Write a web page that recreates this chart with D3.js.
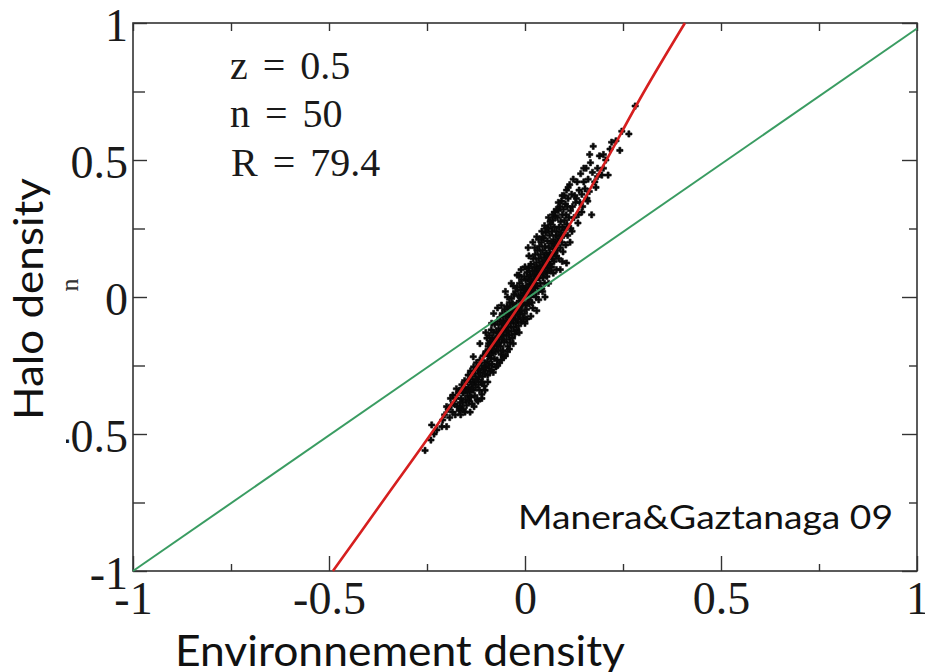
<!DOCTYPE html>
<html><head><meta charset="utf-8">
<script src="https://cdn.jsdelivr.net/npm/d3@7"></script>
<style>body{margin:0;background:#fff}</style></head>
<body><svg id="c" width="925" height="672"></svg>
<script>
// ---------- data ----------
const majorTicks = [-1, -0.5, 0, 0.5, 1];
const minorTicks = [-0.75, -0.25, 0.25, 0.75];
const xTickLabels = ["-1", "-0.5", "0", "0.5", "1"];
const yTickLabels = ["-1", "-0.5", "0", "0.5", "1"];
const annotations = ["z = 0.5", "n = 50", "R = 79.4"];
const credit = "Manera&Gaztanaga 09";
const xTitle = "Environnement density";
const yTitle = "Halo density";

const identityLine = [[-1, -1], [1, 0.98]];
const fitLine = [[-0.49,-1.0],[-0.35,-0.72],[-0.24,-0.5],[-0.12,-0.25],[0,0],[0.1,0.23],[0.2,0.48],[0.3,0.74],[0.408,1.0]];

const tailPoints = [[-0.255,-0.56],[-0.24,-0.522],[-0.238,-0.467],[-0.232,-0.50],[-0.225,-0.485],[-0.212,-0.473],[-0.21,-0.449],[-0.205,-0.43],[-0.2,-0.473],[-0.196,-0.41],[-0.192,-0.44],[-0.188,-0.395],[-0.185,-0.42],[-0.184,-0.358],[-0.18,-0.39],[-0.178,-0.43],[-0.176,-0.37],[-0.173,-0.40],[-0.17,-0.35],[-0.168,-0.415],[-0.166,-0.405],[-0.19,-0.37],[-0.2,-0.40],[-0.175,-0.335]];

const coreLow = [[-0.167,-0.34],[-0.166,-0.40],[-0.164,-0.43],[-0.163,-0.37],[-0.161,-0.32],
[-0.159,-0.385],[-0.158,-0.35],[-0.157,-0.41],[-0.155,-0.33],[-0.154,-0.305],
[-0.152,-0.375],[-0.151,-0.34],[-0.149,-0.395],[-0.148,-0.31],[-0.147,-0.36],
[-0.145,-0.285],[-0.144,-0.33],[-0.143,-0.38],[-0.141,-0.345],[-0.14,-0.30],
[-0.139,-0.27],[-0.138,-0.365],[-0.136,-0.32],[-0.135,-0.39],[-0.134,-0.29],
[-0.132,-0.34],[-0.131,-0.255],[-0.13,-0.31],[-0.128,-0.36],[-0.127,-0.28],
[-0.126,-0.33],[-0.124,-0.24],[-0.123,-0.30],[-0.122,-0.375],[-0.12,-0.265],
[-0.119,-0.32],[-0.118,-0.29],[-0.116,-0.34],[-0.115,-0.23],[-0.114,-0.275],
[-0.112,-0.31],[-0.111,-0.25],[-0.11,-0.355],[-0.108,-0.29],[-0.107,-0.215],
[-0.106,-0.265],[-0.104,-0.325],[-0.103,-0.24],[-0.102,-0.28],[-0.1,-0.20],
[-0.165,-0.385],[-0.16,-0.34],[-0.153,-0.42],[-0.146,-0.34],[-0.137,-0.34],
[-0.133,-0.315],[-0.125,-0.305],[-0.117,-0.265],[-0.109,-0.31],[-0.101,-0.255]];

const coreMid = [[-0.099,-0.26],[-0.098,-0.20],[-0.097,-0.15],[-0.096,-0.235],[-0.095,-0.285],
[-0.094,-0.18],[-0.093,-0.215],[-0.092,-0.25],[-0.091,-0.14],[-0.09,-0.195],
[-0.089,-0.27],[-0.088,-0.165],[-0.087,-0.225],[-0.086,-0.12],[-0.085,-0.19],
[-0.084,-0.245],[-0.083,-0.15],[-0.082,-0.205],[-0.081,-0.275],[-0.08,-0.13],
[-0.079,-0.175],[-0.078,-0.225],[-0.077,-0.10],[-0.076,-0.155],[-0.075,-0.20],
[-0.074,-0.255],[-0.073,-0.125],[-0.072,-0.18],[-0.071,-0.23],[-0.07,-0.09],
[-0.069,-0.145],[-0.068,-0.195],[-0.067,-0.115],[-0.066,-0.165],[-0.065,-0.24],
[-0.064,-0.075],[-0.063,-0.13],[-0.062,-0.18],[-0.061,-0.21],[-0.06,-0.10],
[-0.059,-0.155],[-0.058,-0.06],[-0.057,-0.12],[-0.056,-0.195],[-0.055,-0.085],
[-0.054,-0.14],[-0.053,-0.165],[-0.052,-0.045],[-0.051,-0.105],[-0.05,-0.215],
[-0.049,-0.07],[-0.048,-0.125],[-0.047,-0.155],[-0.046,-0.035],[-0.045,-0.09],
[-0.044,-0.18],[-0.043,-0.055],[-0.042,-0.11],[-0.041,-0.14],[-0.04,-0.02],
[-0.039,-0.075],[-0.038,-0.165],[-0.037,-0.04],[-0.036,-0.095],[-0.035,-0.125],
[-0.034,-0.005],[-0.033,-0.06],[-0.032,-0.15],[-0.031,-0.025],[-0.03,-0.08],
[-0.029,-0.11],[-0.028,0.01],[-0.027,-0.045],[-0.026,-0.135],[-0.025,-0.065],
[-0.024,0.02],[-0.023,-0.095],[-0.022,-0.03],[-0.021,-0.12],[-0.02,0.035],
[-0.019,-0.05],[-0.018,-0.08],[-0.017,0.005],[-0.016,-0.105],[-0.015,-0.015],
[-0.014,0.05],[-0.013,-0.065],[-0.012,-0.035],[-0.011,0.025],[-0.01,-0.09],
[-0.009,0.065],[-0.008,-0.05],[-0.007,-0.005],[-0.006,0.04],[-0.005,-0.075],
[-0.004,0.015],[-0.003,-0.02],[-0.002,0.075],[-0.001,-0.06],[0.0,0.03],
[-0.097,-0.205],[-0.093,-0.17],[-0.089,-0.21],[-0.085,-0.16],[-0.081,-0.19],[-0.077,-0.165],[-0.073,-0.15],[-0.069,-0.17],[-0.065,-0.135],[-0.061,-0.14],[-0.057,-0.095],[-0.053,-0.11],[-0.049,-0.10],[-0.045,-0.125],[-0.041,-0.06],[-0.037,-0.07],[-0.033,-0.085],[-0.029,-0.05],[-0.025,-0.03],[-0.021,-0.06],[-0.017,-0.04],[-0.013,0.0],[-0.009,-0.025],[-0.005,0.0],[-0.001,0.01]];

const coreHigh = [[0.001,-0.03],[0.002,0.06],[0.003,0.01],[0.004,-0.045],[0.005,0.09],
[0.006,0.035],[0.007,-0.01],[0.008,0.065],[0.009,0.015],[0.01,0.105],
[0.011,-0.025],[0.012,0.045],[0.013,0.08],[0.014,0.0],[0.015,0.12],
[0.016,0.03],[0.017,0.065],[0.018,-0.02],[0.019,0.095],[0.02,0.05],
[0.021,0.14],[0.022,0.015],[0.023,0.08],[0.024,0.11],[0.025,0.035],
[0.026,0.155],[0.027,0.065],[0.028,0.0],[0.029,0.125],[0.03,0.09],
[0.031,0.04],[0.032,0.17],[0.033,0.105],[0.034,0.02],[0.035,0.14],
[0.036,0.07],[0.037,0.185],[0.038,0.115],[0.039,0.05],[0.04,0.155],
[0.041,0.09],[0.042,0.2],[0.043,0.03],[0.044,0.13],[0.045,0.17],
[0.046,0.07],[0.047,0.215],[0.048,0.11],[0.049,0.145],[0.05,0.05],
[0.051,0.185],[0.052,0.09],[0.053,0.235],[0.054,0.125],[0.055,0.16],
[0.056,0.075],[0.057,0.205],[0.058,0.105],[0.059,0.25],[0.06,0.14],
[0.061,0.18],[0.062,0.095],[0.063,0.225],[0.064,0.12],[0.065,0.265],
[0.066,0.155],[0.067,0.195],[0.068,0.11],[0.069,0.24],[0.07,0.14],
[0.071,0.28],[0.072,0.175],[0.073,0.21],[0.074,0.13],[0.075,0.255],
[0.076,0.16],[0.077,0.295],[0.078,0.19],[0.079,0.225],[0.08,0.15],
[0.003,0.035],[0.007,0.04],[0.011,0.02],[0.015,0.06],[0.019,0.03],[0.023,0.05],[0.027,0.09],[0.031,0.07],[0.035,0.1],[0.039,0.085],[0.043,0.11],[0.047,0.09],[0.051,0.13],[0.055,0.12],[0.059,0.15],[0.063,0.16],[0.067,0.15],[0.071,0.2],[0.075,0.19],[0.079,0.19]];

const coreTop = [[0.081,0.24],[0.082,0.17],[0.083,0.29],[0.084,0.205],[0.085,0.315],
[0.086,0.14],[0.087,0.255],[0.088,0.22],[0.089,0.33],[0.09,0.18],
[0.091,0.275],[0.092,0.235],[0.093,0.35],[0.094,0.2],[0.095,0.30],
[0.096,0.255],[0.097,0.165],[0.098,0.32],[0.099,0.225],[0.1,0.37],
[0.101,0.28],[0.102,0.245],[0.103,0.34],[0.104,0.19],[0.105,0.30],
[0.106,0.39],[0.107,0.265],[0.108,0.33],[0.109,0.225],[0.11,0.36],
[0.112,0.29],[0.114,0.41],[0.116,0.315],[0.117,0.25],[0.119,0.375],
[0.121,0.33],[0.123,0.43],[0.125,0.29],[0.127,0.37],[0.129,0.345]];

const sparseTop = [[0.131,0.36],[0.133,0.42],[0.136,0.30],[0.138,0.39],[0.14,0.345],[0.142,0.45],[0.145,0.375],[0.147,0.33],[0.15,0.42],[0.153,0.395],[0.156,0.47],[0.158,0.36],[0.161,0.43],[0.164,0.385],[0.167,0.49],[0.17,0.30],[0.172,0.455],[0.174,0.55],[0.178,0.42],[0.181,0.40],[0.185,0.47],[0.19,0.515],[0.196,0.445],[0.2,0.52],[0.206,0.50],[0.212,0.445],[0.217,0.54],[0.221,0.565],[0.232,0.57],[0.242,0.535],[0.247,0.605],[0.265,0.595],[0.281,0.697]];

const edgePoints = [[-0.102,-0.34],[-0.085,-0.266],[-0.07,-0.25],[-0.055,-0.22],[-0.04,-0.19],[0.0,-0.096],[0.015,-0.07],[0.03,-0.05],[0.051,0.0],[0.072,0.087],[0.106,0.124],[0.09,0.10],
[-0.085,-0.096],[-0.06,-0.03],[-0.045,0.0],[-0.03,0.04],[-0.015,0.08],[0.0,0.11],[0.008,0.18],[0.02,0.2],[0.03,0.22],[0.043,0.24],[0.05,0.26],[0.06,0.29],[0.064,0.275],[0.075,0.31],[0.085,0.345],[-0.132,-0.218],[-0.115,-0.17],[-0.1,-0.13]];

const outerPoints = [[-0.08,-0.06],[-0.07,-0.04],[-0.05,0.02],[-0.035,0.05],[-0.02,0.08],[-0.01,0.1],[0.01,0.15],[0.025,0.18],[0.035,0.21],[0.045,0.22],[0.055,0.25],[0.07,0.3],[0.08,0.32],[0.095,0.37],[0.11,0.40],
[-0.06,-0.23],[-0.045,-0.2],[-0.03,-0.17],[-0.015,-0.13],[0.005,-0.08],[0.02,-0.04],[0.035,-0.01],[0.045,0.02],[0.06,0.05],[0.08,0.1],[0.095,0.13],[0.115,0.2],[0.12,0.24],[0.135,0.27],
[-0.12,-0.38],[-0.11,-0.37],[-0.095,-0.31],[-0.13,-0.4],[-0.14,-0.42],
[0.145,0.31],[0.16,0.35],[0.185,0.44],[0.2,0.47],[0.15,0.47],[0.165,0.52]];

// ---------- drawing ----------
const svg = d3.select("#c");
svg.append("rect").attr("width",925).attr("height",672).attr("fill","#fff");
const L=133, R=917, T=23, B=571;
const x = d3.scaleLinear().domain([-1,1]).range([L,R]);
const y = d3.scaleLinear().domain([-1,1]).range([B,T]);
const serif = "'Liberation Serif','Times New Roman',serif";
const sans = "Lato,'Open Sans',sans-serif";
const axisColor = "#333";

function styleAxis(g){
  g.select(".domain").remove();
  g.selectAll("line").attr("stroke",axisColor).attr("stroke-width",1.4);
  g.selectAll("text").attr("font-family",serif).attr("font-size",46).attr("fill","#1a1a1a");
}
svg.append("g").attr("transform",`translate(0,${B})`)
  .call(d3.axisBottom(x).tickValues(majorTicks).tickSizeInner(-15).tickSizeOuter(0).tickPadding(10).tickFormat((d,i)=>xTickLabels[i]))
  .call(styleAxis);
svg.append("g").attr("transform",`translate(0,${B})`)
  .call(d3.axisBottom(x).tickValues(minorTicks).tickSizeInner(-7).tickSizeOuter(0).tickFormat(""))
  .call(styleAxis);
svg.append("g").attr("transform",`translate(0,${T})`)
  .call(d3.axisTop(x).tickValues(majorTicks.concat(minorTicks)).tickSizeInner(-8).tickSizeOuter(0).tickFormat(""))
  .call(styleAxis);
svg.append("g").attr("transform",`translate(${L},0)`)
  .call(d3.axisLeft(y).tickValues(majorTicks).tickSizeInner(-14).tickSizeOuter(0).tickPadding(5).tickFormat((d,i)=>yTickLabels[i]))
  .call(styleAxis)
  .call(g=>g.selectAll("text").attr("dy","0.38em"));
svg.append("g").attr("transform",`translate(${L},0)`)
  .call(d3.axisLeft(y).tickValues(minorTicks).tickSizeInner(-12).tickSizeOuter(0).tickFormat(""))
  .call(styleAxis);
svg.append("g").attr("transform",`translate(${R},0)`)
  .call(d3.axisRight(y).tickValues(majorTicks).tickSizeInner(-15).tickSizeOuter(0).tickFormat(""))
  .call(styleAxis);
svg.append("g").attr("transform",`translate(${R},0)`)
  .call(d3.axisRight(y).tickValues(minorTicks).tickSizeInner(-8).tickSizeOuter(0).tickFormat(""))
  .call(styleAxis);

svg.append("rect").attr("x",L).attr("y",T).attr("width",R-L).attr("height",B-T)
  .attr("fill","none").attr("stroke",axisColor).attr("stroke-width",1.6);

// scatter
const allPoints = [].concat(tailPoints, coreLow, coreMid, coreHigh, coreTop, sparseTop, edgePoints, outerPoints);
const sym = d3.symbol().type(d3.symbolCross).size(22);
svg.append("g").selectAll("path").data(allPoints).join("path")
  .attr("transform",d=>`translate(${x(d[0])},${y(d[1])})`)
  .attr("d",sym).attr("fill","#0a0a0a").attr("stroke","#0a0a0a").attr("stroke-width",0.6);

const line = d3.line().x(d=>x(d[0])).y(d=>y(d[1]));
svg.append("path").datum(identityLine).attr("d",line).attr("fill","none")
  .attr("stroke","#3a9c62").attr("stroke-width",2);
svg.append("path").datum(fitLine).attr("d",line.curve(d3.curveMonotoneX)).attr("fill","none")
  .attr("stroke","#d61f1f").attr("stroke-width",2.6);

const annY=[79,127,176];
svg.append("g").selectAll("text").data(annotations).join("text")
  .attr("x",(d,i)=>i==2?231:230).attr("y",(d,i)=>annY[i])
  .attr("font-family",serif).attr("font-size",40).attr("word-spacing",5).attr("fill","#1a1a1a")
  .text(d=>d);

svg.append("text").attr("x",518).attr("y",529).attr("font-family",sans).attr("font-size",32)
  .attr("textLength",375).attr("lengthAdjust","spacingAndGlyphs").attr("fill","#111").text(credit);

svg.append("text").attr("x",175).attr("y",666).attr("font-family",sans).attr("font-size",43)
  .attr("textLength",450).attr("lengthAdjust","spacingAndGlyphs").attr("fill","#111").text(xTitle);

svg.append("rect").attr("x",0).attr("y",150).attr("width",66).attr("height",296).attr("fill","#fff");
svg.append("text").attr("transform","translate(43,420) rotate(-90)")
  .attr("font-family",sans).attr("font-size",41).attr("textLength",242).attr("lengthAdjust","spacingAndGlyphs")
  .attr("fill","#111").text(yTitle);
svg.append("text").attr("transform","translate(78,285) rotate(-90)").attr("text-anchor","middle")
  .attr("font-family",serif).attr("font-size",26).attr("fill","#333").text("n");
</script></body></html>
